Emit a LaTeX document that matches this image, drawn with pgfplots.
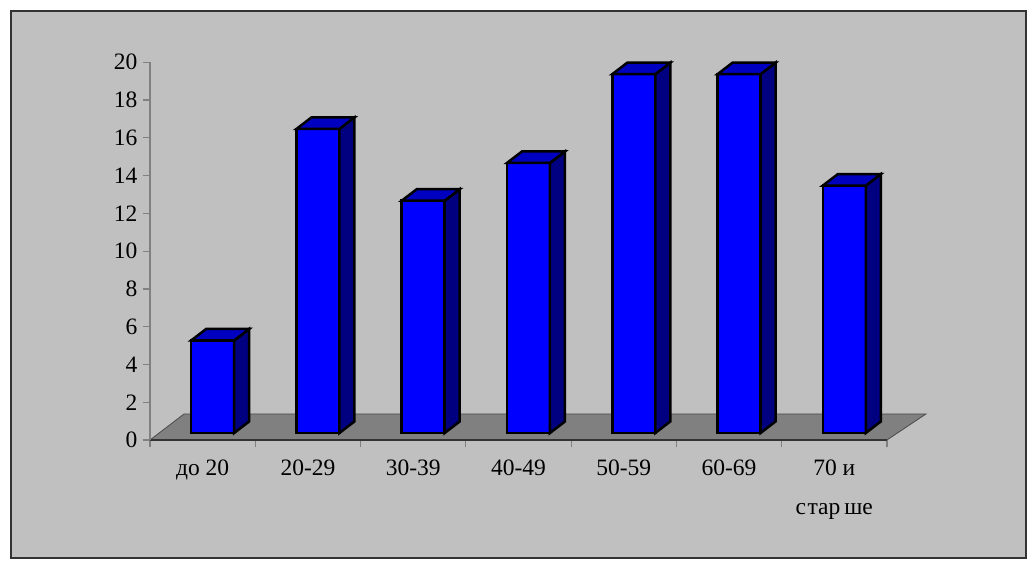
\documentclass[border=0pt]{standalone}
\usepackage{pgfplots}
\usepackage{pgfplotstable}
\pgfplotsset{compat=1.18}
\usepackage{fontspec}
\setmainfont{Liberation Serif}

\definecolor{bggray}{HTML}{C0C0C0}
\definecolor{floorgray}{HTML}{808080}
\definecolor{barfront}{HTML}{0000FF}
\definecolor{barsidec}{HTML}{000080}
\definecolor{bartopc}{HTML}{0000C0}

% age groups, share of patients
\pgfplotstableread{
x val
0 4.9
1 16.1
2 12.3
3 14.3
4 19.0
5 19.0
6 13.1
}\agedata

% side and top faces of a bar, drawn from the front top centre
\pgfdeclareplotmark{barside}{%
  \pgfmathsetmacro\barH{\hval*18.885}%
  \pgfpathmoveto{\pgfpoint{21.5pt}{0pt}}%
  \pgfpathlineto{\pgfpoint{36.5pt}{11.5pt}}%
  \pgfpathlineto{\pgfpoint{36.5pt}{11.5pt-\barH pt}}%
  \pgfpathlineto{\pgfpoint{21.5pt}{-\barH pt}}%
  \pgfpathclose
  \pgfusepathqfillstroke}
\pgfdeclareplotmark{bartop}{%
  \pgfpathmoveto{\pgfpoint{-21.5pt}{0pt}}%
  \pgfpathlineto{\pgfpoint{21.5pt}{0pt}}%
  \pgfpathlineto{\pgfpoint{36.5pt}{11.5pt}}%
  \pgfpathlineto{\pgfpoint{-6.5pt}{11.5pt}}%
  \pgfpathclose
  \pgfusepathqfillstroke}

\begin{document}
\begin{tikzpicture}
  \fill[white] (0,0) rectangle (1036pt,563pt);
  \filldraw[fill=bggray, draw=black!80, line width=1.3pt] (11pt,5pt) rectangle (1026pt,552pt);

  \begin{axis}[
    at={(150pt,123pt)}, anchor=south west,
    x=105.28pt, y=18.885pt,
    xmin=-0.5, xmax=6.5, ymin=0, ymax=20,
    enlargelimits=false, clip=false, axis on top,
    axis x line=bottom, axis y line=left,
    x axis line style={-, black!80, line width=1.2pt},
    y axis line style={-, gray, line width=1.2pt},
    ytick={0,2,...,20},
    xtick={-0.5,0.5,...,6.5},
    x tick label as interval,
    xticklabels={до 20,20-29,30-39,40-49,50-59,60-69,{70 и\\с\kern1.5pt тар\kern4pt ше}},
    tick align=outside, major tick length=7pt,
    major tick style={gray, line width=1.2pt},
    tick label style={font=\fontsize{23.5}{39}\selectfont, text=black},
    yticklabel style={xshift=-2pt},
    xticklabel style={align=center, yshift=-9pt},
    /pgf/number format/assume math mode=true,
  ]
    % floor of the 3-D chart
    \addplot[fill=floorgray, draw=black!70, line width=0.8pt]
      coordinates {(-0.5,0) (6.5,0) (6.870,1.377) (-0.177,1.377)} -- cycle;
  \end{axis}

  \begin{axis}[
    at={(160pt,130pt)}, anchor=south west,
    x=105.28pt, y=18.885pt,
    xmin=-0.5, xmax=6.5, ymin=0, ymax=20,
    enlargelimits=false, clip=false, hide axis,
  ]
    \addplot[ybar, bar width=43pt, bar shift=0pt, fill=barfront, draw=black,
      line width=2.5pt] table[x=x, y=val] {\agedata};
    \addplot[only marks, mark=barside, visualization depends on={rawy \as \hval},
      mark options={fill=barsidec, draw=black, line width=2.5pt, line join=miter}]
      table[x=x, y=val] {\agedata};
    \addplot[only marks, mark=bartop,
      mark options={fill=bartopc, draw=black, line width=2.5pt, line join=miter}]
      table[x=x, y=val] {\agedata};
  \end{axis}
\end{tikzpicture}
\end{document}
